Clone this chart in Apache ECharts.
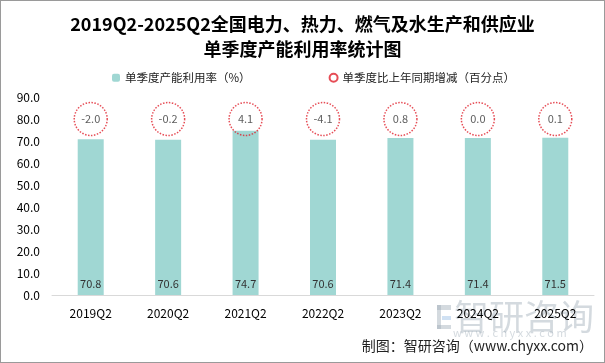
<!DOCTYPE html>
<html><head><meta charset="utf-8">
<script src="https://cdn.jsdelivr.net/npm/echarts@6/dist/echarts.min.js"></script>
<style>html,body{margin:0;padding:0;background:#fff}#c{width:603px;height:361px;border:1px solid #9a9a9a}</style>
</head><body><div id="c"></div>
<script>
var categories = ['2019Q2','2020Q2','2021Q2','2022Q2','2023Q2','2024Q2','2025Q2'];
var utilization = [70.8, 70.6, 74.7, 70.6, 71.4, 71.4, 71.5];
var yoyChange = [-2.0, -0.2, 4.1, -4.1, 0.8, 0.0, 0.1];
var bubbleLevel = 80;
var yTicks = {min: 0, max: 90, interval: 10};

var chart = echarts.init(document.getElementById('c'));
var font = 'Noto Sans CJK SC, sans-serif';
var wm = 'rgba(160,172,185,0.45)';
chart.setOption({
  animation: false,
  textStyle: {fontFamily: font},
  title: {
    text: '2019Q2-2025Q2全国电力、热力、燃气及水生产和供应业\n单季度产能利用率统计图',
    left: 'center', top: 6,
    textStyle: {fontSize: 18, fontWeight: 'bold', color: '#000', lineHeight: 25, fontFamily: font}
  },
  legend: {
    left: 106, top: 66, itemWidth: 8, itemHeight: 8, itemGap: 78,
    textStyle: {fontSize: 11.5, color: '#222'},
    data: ['单季度产能利用率（%）', '单季度比上年同期增减（百分点）']
  },
  grid: {left: 51, right: 10, top: 96, bottom: 67},
  xAxis: {
    type: 'category', data: categories,
    axisLine: {lineStyle: {color: '#d9d9d9'}},
    axisTick: {show: false},
    axisLabel: {color: '#000', fontSize: 12, margin: 12}
  },
  yAxis: {
    type: 'value', min: yTicks.min, max: yTicks.max, interval: yTicks.interval,
    splitLine: {show: false}, axisLine: {show: false}, axisTick: {show: false},
    axisLabel: {color: '#000', fontSize: 12, margin: 12, formatter: function(v){return v.toFixed(1);}}
  },
  series: [
    {
      name: '单季度产能利用率（%）', type: 'bar', data: utilization, barWidth: 26,
      itemStyle: {color: '#a0d7d3'},
      label: {show: true, position: 'insideBottom', distance: 6, color: '#333', fontSize: 11,
        formatter: function(p){return p.value.toFixed(1);}}
    },
    {
      name: '单季度比上年同期增减（百分点）', type: 'scatter', symbol: 'circle', symbolSize: 33,
      data: yoyChange.map(function(v){return {value: bubbleLevel, change: v};}),
      itemStyle: {color: 'rgba(255,255,255,0)', borderColor: '#e0202c', borderWidth: 1.5, borderType: [1.5, 1.5]},
      label: {show: true, position: 'inside', color: '#333', fontSize: 11,
        formatter: function(p){return yoyChange[p.dataIndex].toFixed(1);}},
      z: 5
    }
  ],
  graphic: [
    {type: 'rect', left: 436, top: 304, shape: {width: 14, height: 5}, style: {fill: wm}, z: 0},
    {type: 'rect', left: 436, top: 304, shape: {width: 4, height: 24}, style: {fill: wm}, z: 0},
    {type: 'rect', left: 441, top: 315, shape: {width: 9, height: 4}, style: {fill: 'rgba(120,170,220,0.35)'}, z: 0},
    {type: 'rect', left: 436, top: 324, shape: {width: 14, height: 4}, style: {fill: wm}, z: 0},
    {type: 'text', left: 453, top: 298, style: {text: '智研咨询', fontSize: 35, fill: wm, fontFamily: font}, z: 0},
    {type: 'text', left: 452, top: 326, style: {text: 'w w w . c h y x x . c o m', fontSize: 11, fill: wm, fontFamily: font}, z: 0},
    {type: 'text', right: 11, top: 338, style: {text: '制图：智研咨询（www.chyxx.com）', fontSize: 14, fill: '#222', fontFamily: font}}
  ]
});
</script></body></html>
